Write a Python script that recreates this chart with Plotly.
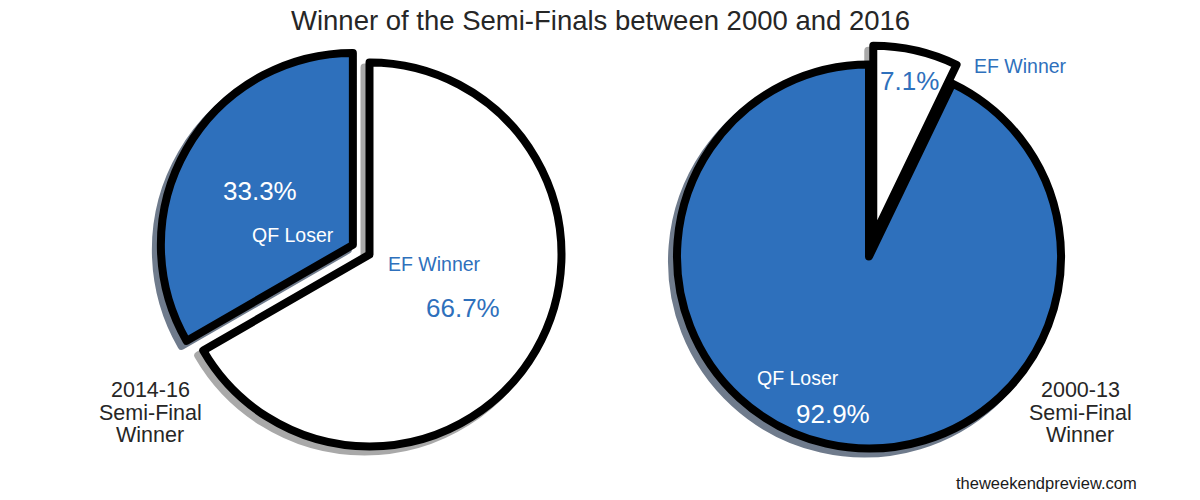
import math
import plotly.graph_objects as go

# ---------------- data ----------------
categories = ["QF Loser", "EF Winner"]
left_counts = [2, 4]      # 2014-16 semi-final winners
right_counts = [26, 2]    # 2000-13 semi-final winners
left_title = ["2014-16", "Semi-Final", "Winner"]
right_title = ["2000-13", "Semi-Final", "Winner"]
chart_title = "Winner of the Semi-Finals between 2000 and 2016"
watermark = "theweekendpreview.com"

# ---------------- style ----------------
W, H = 1200, 500
FONT = "Liberation Sans, Arial, sans-serif"
BLUE = "#2e70bc"
slice_colors = [BLUE, "#ffffff"]
shadow_colors = ["#6f7b8c", "#a9a9a9"]
text_colors = ["#ffffff", BLUE]
R = 192          # pie radius in px (path)
LW = 8           # border width
SHADOW = 5       # shadow offset px (left / down)

pies = [
    dict(counts=left_counts, pull=[0.1, 0.0], center=(369.5, 254.5),
         pctd=[0.56, 0.56], ld=[0.1, 0.1], lshift=[0, 0],
         side=left_title, side_x=150),
    dict(counts=right_counts, pull=[0.0, 0.1], center=(869, 256.5),
         pctd=[0.84, 0.84], ld=[0.65, 1.03], lshift=[0, -17],
         side=right_title, side_x=1080),
]

fig = go.Figure()
annotations = []


def px_to_paper(x, y):
    return x / W, 1 - y / H


for p in pies:
    cx, cy = p["center"]
    half = R * (1 + max(p["pull"]))
    for shadow in (True, False):
        ox = -SHADOW if shadow else 0
        oy = SHADOW if shadow else 0
        x0, y1 = px_to_paper(cx + ox - half, cy + oy - half)
        x1, y0 = px_to_paper(cx + ox + half, cy + oy + half)
        cols = shadow_colors if shadow else slice_colors
        # plotted in reverse order so that QF Loser runs counter-clockwise
        # from 12 o'clock and EF Winner clockwise from 12 o'clock
        fig.add_trace(go.Pie(
            labels=categories[::-1], values=p["counts"][::-1], sort=False,
            direction="clockwise", rotation=0,
            pull=p["pull"][::-1], textinfo="none", hoverinfo="skip",
            showlegend=False,
            marker=dict(colors=cols[::-1],
                        line=dict(color=cols[::-1] if shadow else "#000000",
                                  width=LW)),
            domain=dict(x=[x0, x1], y=[y0, y1]),
        ))

    total = sum(p["counts"])
    cum = 0
    for i, v in enumerate(p["counts"]):
        theta = math.radians(90 + 360 * (cum + v / 2) / total)
        cum += v
        dx, dy = math.cos(theta), -math.sin(theta)
        ex = cx + p["pull"][i] * R * dx
        ey = cy + p["pull"][i] * R * dy
        # percentage
        px_, py_ = ex + p["pctd"][i] * R * dx, ey + p["pctd"][i] * R * dy
        ax, ay = px_to_paper(px_, py_)
        annotations.append(dict(
            x=ax, y=ay, xref="paper", yref="paper", showarrow=False,
            text=f"{100 * v / total:.1f}%", xanchor="center", yanchor="middle",
            font=dict(family=FONT, size=26, color=text_colors[i])))
        # category label
        lt = theta + math.radians(p["lshift"][i])
        ldx, ldy = math.cos(lt), -math.sin(lt)
        lx, ly = ex + p["ld"][i] * R * ldx, ey + p["ld"][i] * R * ldy
        ax, ay = px_to_paper(lx, ly)
        annotations.append(dict(
            x=ax, y=ay, xref="paper", yref="paper", showarrow=False,
            text=categories[i], xanchor="right" if ldx < 0 else "left",
            yanchor="middle",
            font=dict(family=FONT, size=19.5, color=text_colors[i])))

    for j, line in enumerate(p["side"]):
        ax, ay = px_to_paper(p["side_x"], 390 + 22.7 * j)
        annotations.append(dict(
            x=ax, y=ay, xref="paper", yref="paper", showarrow=False,
            text=line, xanchor="center", yanchor="middle",
            font=dict(family=FONT, size=21.5, color="#262626")))

ax, ay = px_to_paper(600, 20)
annotations.append(dict(
    x=ax, y=ay, xref="paper", yref="paper", showarrow=False,
    text=chart_title, xanchor="center", yanchor="middle",
    font=dict(family=FONT, size=27.5, color="#262626")))
ax, ay = px_to_paper(1139, 483)
annotations.append(dict(
    x=ax, y=ay, xref="paper", yref="paper", showarrow=False,
    text=watermark, xanchor="right", yanchor="middle",
    font=dict(family=FONT, size=16.5, color="#1a1a1a")))

fig.update_layout(
    width=W, height=H,
    margin=dict(l=0, r=0, t=0, b=0),
    paper_bgcolor="white", plot_bgcolor="white",
    annotations=annotations, showlegend=False,
)

# remove the default page margin so the 1200x500 figure fills the window
fig.write_html("out.html", config={"displayModeBar": False},
               post_script="document.body.style.margin='0';")
